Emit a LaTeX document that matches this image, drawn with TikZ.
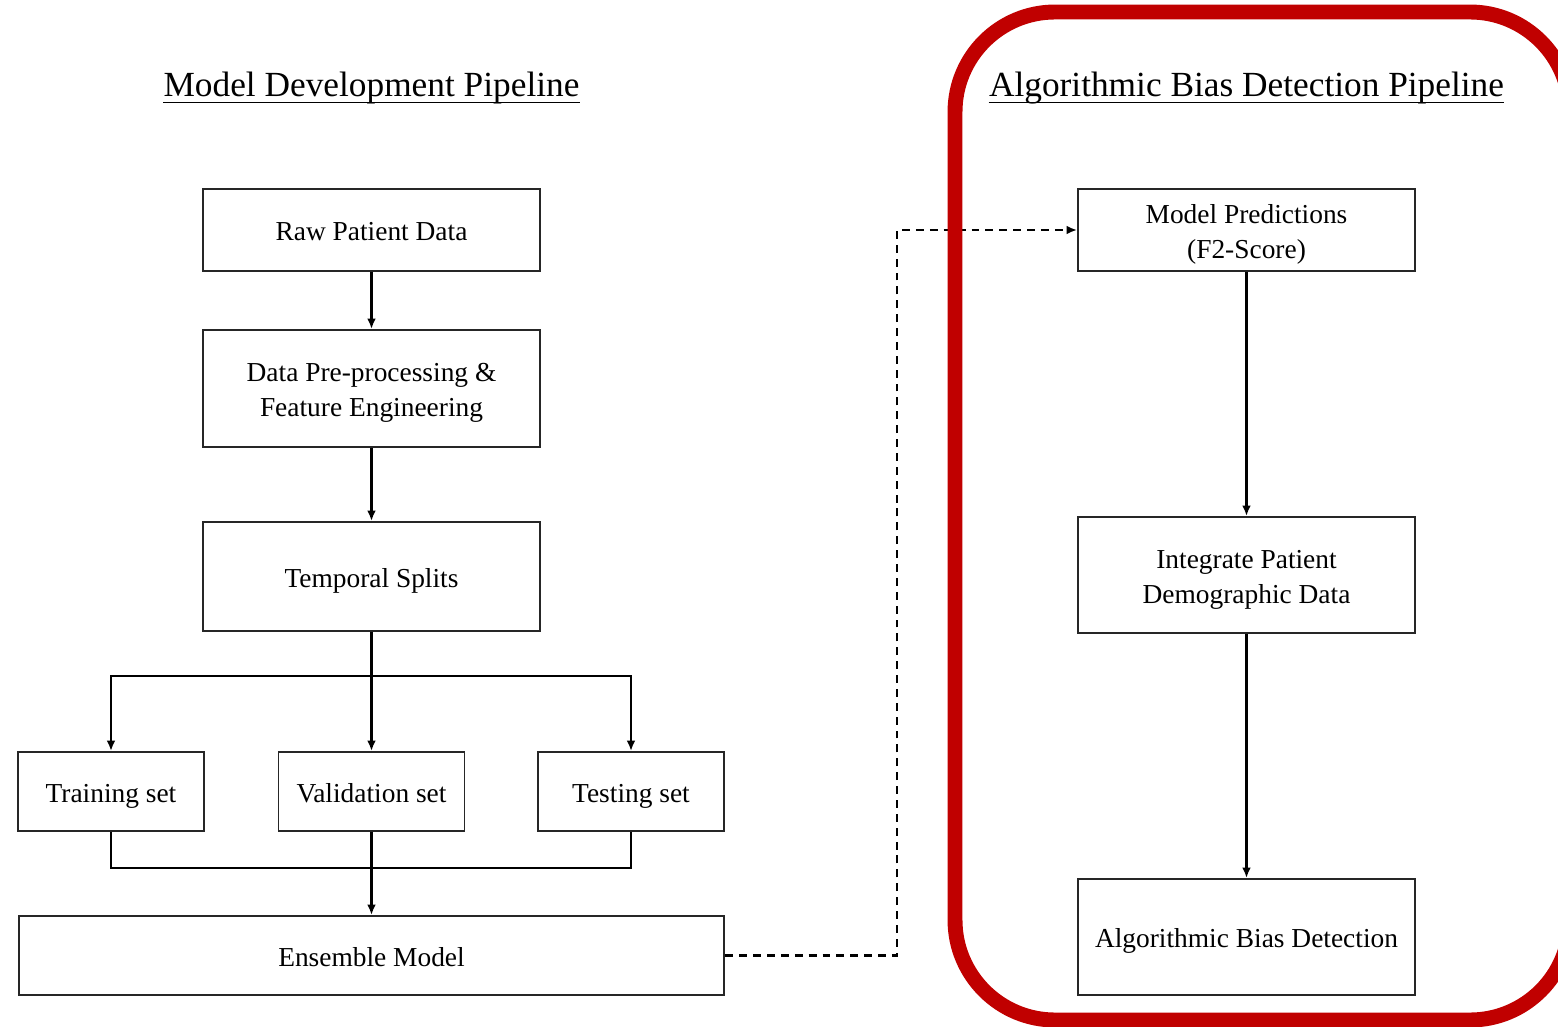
\documentclass[tikz,border=0pt]{standalone}
\usepackage{fontspec}
\setmainfont{Liberation Serif}
\usetikzlibrary{arrows.meta}
\definecolor{boxred}{HTML}{C00000}
\newcommand{\boxstrut}{\rule[-3.5pt]{0pt}{19.3pt}}
\newcommand{\boxendstrut}{\rule[-3.5pt]{0pt}{1pt}}
\begin{document}
\begin{tikzpicture}[x=0.02cm,y=-0.02cm,
  box/.style={draw=black!85,line width=1.1pt,align=center,inner sep=0pt,
    font=\fontsize{15.6}{19.8}\selectfont},
  wide/.style={box,minimum width=6.74cm},
  small/.style={box,minimum width=3.72cm,minimum height=1.58cm},
  title/.style={inner sep=0pt,font=\fontsize{20.1}{24}\selectfont},
  conn/.style={draw=black,line width=1.2pt},
  arr/.style={conn,-{Latex[length=6pt,width=5pt]}},
  dsh/.style={arr,line width=1.3pt,dash pattern=on 4.5pt off 3.4pt}]
\useasboundingbox (0,0) rectangle (1558,1027);
% titles
\node[title,anchor=base] (t1) at (371.5,97) {Model Development Pipeline};
\node[title,anchor=base] (t2) at (1246.5,97) {Algorithmic Bias Detection Pipeline};
\draw[line width=0.8pt] ([yshift=-3pt]t1.base west) -- ([yshift=-3pt]t1.base east);
\draw[line width=0.8pt] ([yshift=-3pt]t2.base west) -- ([yshift=-3pt]t2.base east);
% left pipeline
\node[wide,minimum height=1.64cm] (raw) at (371.5,230) {\boxstrut Raw Patient Data\boxendstrut};
\node[wide,minimum height=2.34cm] (pre) at (371.5,388.5) {\boxstrut Data Pre-processing \&\\Feature Engineering\boxendstrut};
\node[wide,minimum height=2.18cm] (ts) at (371.5,576.5) {\boxstrut Temporal Splits\boxendstrut};
\node[small] (train) at (111,791.5) {\boxstrut Training set\boxendstrut};
\node[small] (val) at (371.5,791.5) {\boxstrut Validation set\boxendstrut};
\node[small] (test) at (631,791.5) {\boxstrut Testing set\boxendstrut};
\node[box,minimum width=14.12cm,minimum height=1.58cm] (ens) at (371.5,955.5) {\boxstrut Ensemble Model\boxendstrut};
% right pipeline
\node[wide,minimum height=1.64cm] (mp) at (1246.5,230) {\boxstrut Model Predictions\\(F2-Score)\boxendstrut};
\node[wide,minimum height=2.32cm] (ipd) at (1246.5,575) {\boxstrut Integrate Patient\\Demographic Data\boxendstrut};
\node[wide,minimum height=2.32cm] (abd) at (1246.5,937) {\boxstrut Algorithmic Bias Detection\boxendstrut};
% connectors
\coordinate (j) at (371.5,676);
\coordinate (k) at (371.5,868);
\coordinate (dd) at (897,600);
\draw[arr] (raw) -- (pre);
\draw[arr] (pre) -- (ts);
\draw[arr] (ts) -- (val);
\draw[arr] (j) -| (train.north);
\draw[arr] (j) -| (test.north);
\draw[conn] (train.south) -- (train.south |- k) -- (test.south |- k) -- (test.south);
\draw[arr] (val) -- (ens);
\draw[arr] (mp) -- (ipd);
\draw[arr] (ipd) -- (abd);
\draw[dsh] (ens.east) -| (dd) |- (mp.west);
% red frame
\draw[boxred,line width=8.5pt,rounded corners=2cm] (955,12) rectangle (1570,1020);
\end{tikzpicture}
\end{document}
